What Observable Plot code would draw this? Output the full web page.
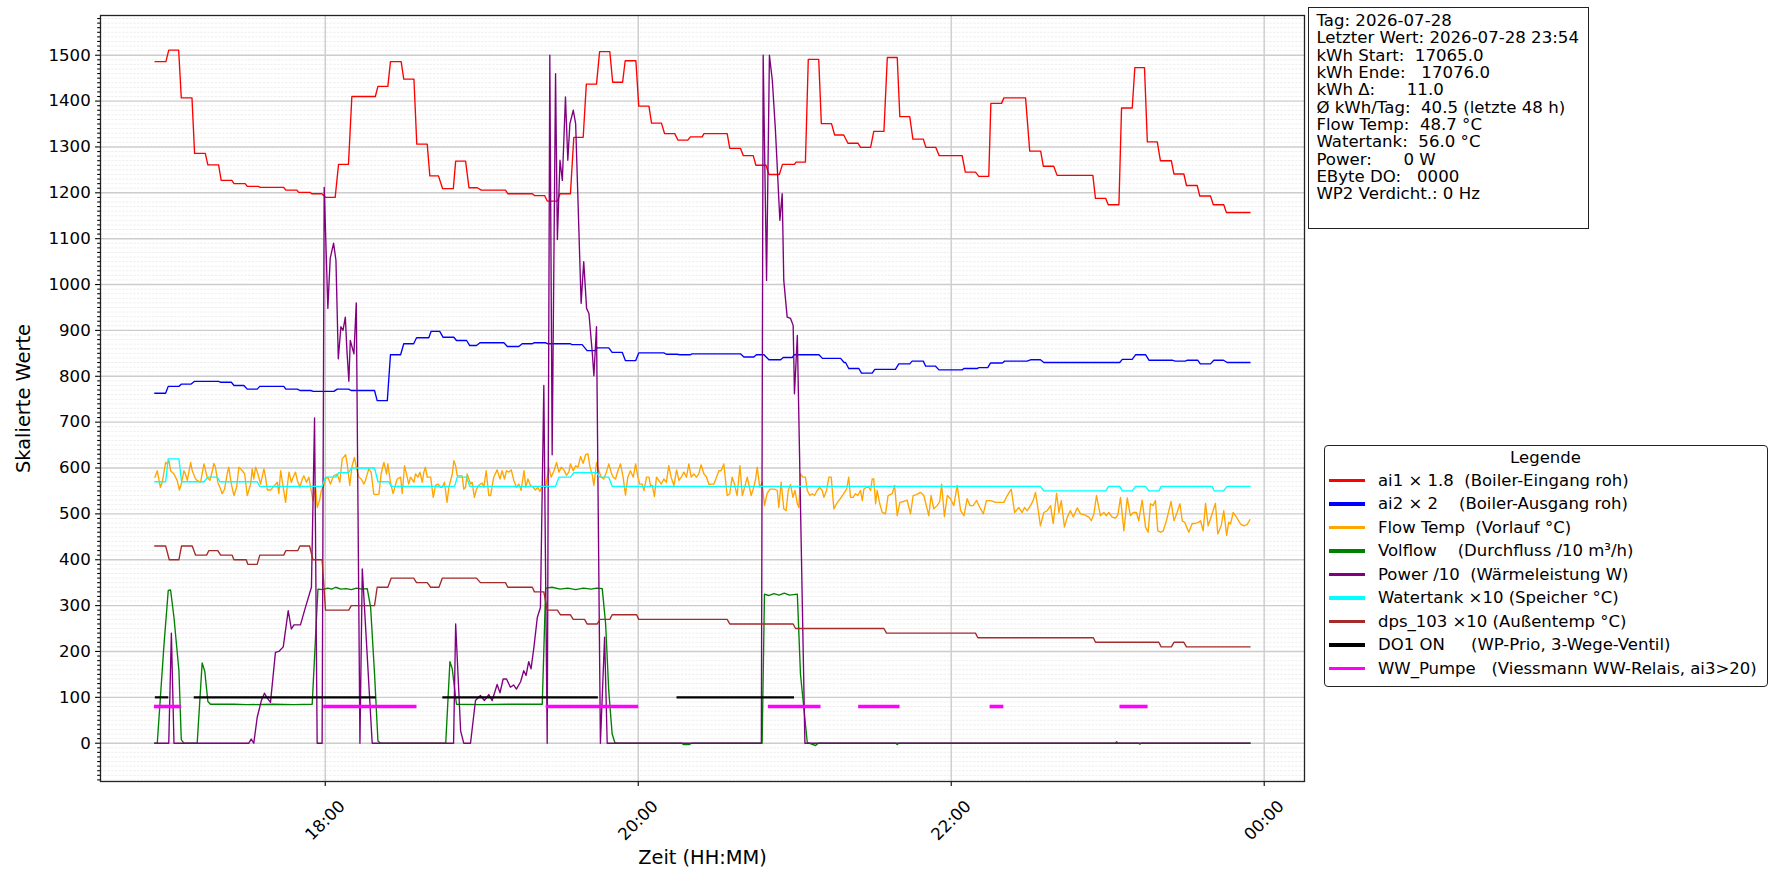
<!DOCTYPE html>
<html><head><meta charset="utf-8">
<script src="https://cdn.jsdelivr.net/npm/d3@7"></script>
<script src="https://cdn.jsdelivr.net/npm/@observablehq/plot@0.6"></script>
<style>
body{margin:0;background:#fff;}
#wrap{position:relative;width:1782px;height:884px;font-family:"DejaVu Sans",sans-serif;color:#000;}
#wrap svg{position:absolute;left:0;top:0;}
#info{position:absolute;left:1307.7px;top:6.7px;width:281.3px;height:222.6px;box-sizing:border-box;border:1.3px solid #222;background:#fff;padding:4.3px 0 0 7.7px;font-size:16.6px;line-height:17.33px;white-space:pre;}
#legend{position:absolute;left:1324px;top:445px;width:443.7px;height:241.7px;box-sizing:border-box;border:1.3px solid #222;border-radius:4px;background:#fff;}
.lt{position:absolute;font-size:16.5px;line-height:16.5px;height:16.5px;white-space:pre;}
.lh{position:absolute;height:3.5px;}
</style></head><body><div id="wrap"></div>
<script>
// time: minutes relative to 18:00
const xTickPos = [0, 120, 240, 360];
const xTickLabels = ["18:00", "20:00", "22:00", "00:00"];
const yMajorTicks = [0,100,200,300,400,500,600,700,800,900,1000,1100,1200,1300,1400,1500];

const ai1 = [[-65.2,1486],[-61.1,1486],[-60,1511],[-56.2,1511],[-55.2,1407],[-51.1,1407],[-50.1,1286],[-46,1286],[-45,1261],[-40.9,1261],[-39.9,1227],[-35.8,1227],[-35,1220],[-30.7,1220],[-29.9,1214],[-25.6,1214],[-25.1,1212],[-16,1212],[-15.1,1206],[-10.9,1206],[-10.2,1201],[-5.8,1201],[-5.2,1198],[-1.3,1198],[0.2,1190],[3.8,1190],[5.1,1262],[8.9,1262],[10.2,1410],[19.2,1410],[20.2,1432],[24,1432],[25,1486],[29.1,1486],[30.1,1448],[34,1448],[35.1,1306],[39.1,1306],[40.1,1237],[43.4,1237],[45,1209],[49.1,1209],[50,1269],[53.8,1269],[55.1,1211],[58.3,1211],[59.8,1206],[69.1,1206],[70,1198],[79.4,1198],[80.2,1194],[84.1,1194],[85.1,1182],[89,1182],[90,1198],[94,1198],[95.3,1321],[98.9,1321],[100.1,1437],[104,1437],[105.2,1508],[109.1,1508],[110.2,1441],[114,1441],[115,1488],[119.1,1488],[120.2,1389],[124.1,1389],[125.1,1352],[128.9,1352],[130.1,1329],[134,1329],[135.2,1315],[139,1315],[140,1322],[144.5,1322],[145.2,1329],[154.1,1329],[155.1,1297],[159.2,1297],[160.3,1281],[164.1,1281],[165.1,1260],[169,1260],[170.1,1240],[174.1,1240],[175.3,1262],[179.9,1262],[180.5,1267],[184.1,1267],[185.2,1491],[189.2,1491],[190.2,1351],[194.1,1351],[195.3,1326],[198.8,1326],[200.4,1308],[204.3,1308],[205.2,1299],[209.1,1299],[210.3,1334],[214.2,1334],[215.5,1495],[219.3,1495],[220.3,1366],[224.1,1366],[225.3,1317],[229.3,1317],[230.3,1299],[234.1,1299],[235.4,1281],[244.2,1281],[245.4,1245],[249.3,1245],[250.6,1236],[254.4,1236],[255.2,1395],[259.3,1395],[260.2,1407],[268.5,1407],[270.1,1291],[274.3,1291],[275.3,1258],[279.3,1258],[280.6,1238],[294.3,1238],[295.3,1188],[299.2,1188],[300.2,1174],[304.3,1174],[305.3,1385],[309.4,1385],[310.4,1473],[314.1,1473],[315.2,1311],[319,1311],[320.2,1270],[324.4,1270],[325.4,1241],[329.2,1241],[330.2,1216],[334.3,1216],[335.3,1193],[339.4,1193],[340.5,1174],[344.5,1174],[345.5,1157],[354.5,1157]];

const ai2 = [[-65.3,763],[-61.2,763],[-60.2,778],[-56.1,778],[-55.1,783],[-51.4,783],[-50.1,789],[-40.8,789],[-40.2,787],[-36,787],[-35,780],[-31.2,780],[-29.9,772],[-26.1,772],[-25.1,778],[-15.9,778],[-15.1,772],[-10.7,772],[-9.7,769],[-5.6,769],[-4.6,767],[3.3,767],[4.6,772],[9,772],[9.9,769],[18.9,769],[19.9,747],[23.8,747],[25,847],[28.9,847],[30.1,871],[33.9,871],[35,884],[39.7,884],[40.6,898],[43.9,898],[45.2,885],[49.3,885],[50.3,878],[54.2,878],[55.4,867],[58,867],[59.3,873],[68.5,873],[69.8,865],[74.2,865],[75.5,871],[79.4,871],[80,873],[84.5,873],[85.2,871],[94,871],[94.6,869],[98.5,869],[100.4,856],[103.6,856],[104.2,862],[108.7,862],[110,852],[113.9,852],[115.1,834],[119,834],[120.2,851],[129.8,851],[130.8,848],[134.9,848],[135.9,847],[140,847],[140.6,849],[159.2,849],[160.5,842],[164.3,842],[165.3,847],[168.2,847],[170.1,836],[174.6,836],[175.6,841],[179.1,841],[179.8,847],[189.3,847],[190.6,839],[197.6,839],[198.9,830],[199.5,830],[200.7,817],[204.6,817],[205.6,807],[209.7,807],[210.7,815],[218.6,815],[219.9,827],[224.1,827],[225,833],[229.3,833],[230.2,822],[234,822],[235.3,814],[244.2,814],[244.9,817],[250,817],[250.6,819],[254,819],[255.1,829],[259.6,829],[260.5,833],[269.1,833],[270.4,836],[274.2,836],[275.5,830],[304.6,830],[305.6,837],[309.4,837],[310.7,847],[314.5,847],[315.8,835],[324.7,835],[325.9,833],[329.8,833],[330.4,835],[334.5,835],[335.5,827],[339.4,827],[340.7,835],[344.4,835],[345.8,830],[354.5,830]];

const flowTemp = [[-65.3,580],[-64.4,594],[-63.8,576],[-63.2,558],[-62.5,569],[-61.2,612],[-60.6,609],[-59.9,616],[-59.3,594],[-58,587],[-56.8,573],[-55.9,552],[-55.2,565],[-54.2,594],[-53.6,587],[-52.9,573],[-51.6,612],[-51,594],[-49.7,576],[-49.1,573],[-47.8,569],[-46.5,609],[-45.3,580],[-44.2,573],[-43.3,594],[-42.7,610],[-42.1,602],[-41.2,569],[-40.4,558],[-39.5,544],[-38.6,554],[-37.6,587],[-37,602],[-36,565],[-35,540],[-34,558],[-33.1,602],[-31.8,594],[-30.9,587],[-29.9,540],[-28.6,565],[-28,598],[-27.4,576],[-26.7,602],[-25.8,587],[-24.8,565],[-23.5,598],[-22.9,580],[-22.2,552],[-21,552],[-19.7,560],[-18.4,569],[-17.8,544],[-17.1,594],[-16.1,558],[-15.2,525],[-14.6,558],[-13.9,591],[-13,569],[-12.3,580],[-11.4,591],[-10.7,573],[-9.7,558],[-8.8,576],[-8.2,583],[-7.2,569],[-6.3,580],[-5.4,551],[-4.7,529],[-3.7,558],[-3.1,514],[-2.2,529],[-1.5,551],[-0.5,562],[0.1,576],[1,580],[2,565],[2.7,576],[3.3,583],[4.6,587],[5.6,569],[6.5,620],[7.8,629],[8.4,609],[9.4,562],[10.3,605],[11.2,623],[12.2,594],[12.9,580],[13.8,576],[14.8,565],[15.4,573],[16.7,598],[17.6,591],[18.6,543],[19.7,542],[20.6,543],[21.4,587],[22.5,612],[23.5,587],[24,609],[25,569],[26,544],[27,565],[27.6,576],[28.9,580],[29.5,544],[30.4,605],[31.4,580],[32,565],[32.7,580],[34,569],[34.6,587],[35.5,580],[36.3,591],[37.2,569],[37.8,591],[38.4,602],[39.1,580],[40.4,580],[41.4,536],[42.3,562],[43.2,565],[44.2,558],[44.8,558],[45.7,569],[46.7,525],[47.4,558],[48.7,587],[49.3,616],[50,605],[50.6,583],[51.6,583],[52.5,583],[53.1,554],[53.8,558],[54.4,587],[55.7,565],[56.3,569],[57.2,536],[58,554],[58.9,562],[59.5,565],[60.2,567],[60.8,558],[61.7,594],[62.7,540],
[63.4,540],[64.6,580],[65.9,596],[67,576],[67.8,594],[68.7,576],[69.5,594],[70.4,591],[71.3,596],[72.3,573],[73.3,558],[74.2,565],[75.1,551],[76.2,594],[76.9,558],[77.7,576],[78.7,562],[79.7,558],[80.6,552],[81.5,558],[82.3,549],[83.2,562],[84.5,558],[85.7,602],[86.6,580],[87.7,594],[88.7,612],[89.6,591],[90.5,602],[91.5,596],[92.5,584],[93.4,591],[94,609],[95.1,594],[96,605],[96.9,602],[97.9,625],[98.9,610],[99.8,629],[100.7,631],[101.5,602],[102.4,584],[103,562],[104,612],[104.9,594],[105.8,580],[106.8,576],[107.8,591],[108.7,609],[109.6,591],[110.4,580],[111.3,576],[112.2,594],[113.2,609],[114.2,580],[115.1,541],[116,580],[117,594],[118.1,580],[119,609],[119.9,580],[120.6,565],[121.5,565],[122.2,551],[123.2,580],[124.1,580],[124.7,562],[125.4,562],[126.2,538],[127,580],[127.9,573],[128.8,565],[129.8,576],[130.8,569],[131.7,605],[132.6,580],[133.7,562],[134.7,596],[135.6,573],[136.5,580],[137.5,591],[138.5,580],[139.4,609],[140.3,580],[141.3,587],[142.3,580],[143.2,587],[144.1,607],[145.2,587],[146.2,580],[147.1,564],[148,565],[149,565],[150,580],[150.9,594],[151.8,594],[152.8,609],[154.1,540],[155.1,544],[156,580],[156.9,565],[157.9,540],[159,605],[159.9,540],[160.8,558],[161.8,580],[162.4,565],[163.3,540],[164.3,558],[165,576],[165.6,602],[166.6,558],[167.5,569],[168.4,518],[169.4,544],[170.5,554],[171.4,554],[172.3,554],[173.3,551],[173.9,514],[174.8,569],[175.8,511],[176.7,507],[177.5,551],[178.4,564],[179.3,536],[180.1,551],[181,522],[181.6,514],[182.2,587],[183.1,580],[184.1,580],[184.8,551],[185.8,540],[186.7,544],[187.6,540],[188.6,551],[189.6,558],[190.5,551],[191.2,536],[192.2,551],[193.1,580],[194,580],[195,511],[196,522],[196.9,529],[197.8,536],[198.8,544],[199.9,554],[200.7,580],[201.4,536],[202.4,536],[203.3,544],[204.2,540],[205.2,551],[205.9,529],[206.5,554],[207.5,558],[208.4,558],[209.1,551],[209.7,576],[210.3,576],[211,522],[211.6,551],[212.6,522],[213.5,504],[214.8,500],[215.8,540],
[217.4,544],[218.3,562],[219.3,496],[220.3,525],[221.8,527],[223.1,530],[224.4,500],[225.4,540],[226.7,542],[228.2,547],[229.5,540],[231.4,496],[232.3,540],[233.3,511],[234.6,518],[235.6,527],[236.3,565],[237.4,494],[238.5,540],[239.7,533],[241,518],[242.3,562],[243.6,507],[244.9,496],[246.1,533],[247.2,518],[248.4,518],[249.7,529],[251,514],[252.3,500],[253.5,529],[255.1,529],[257,525],[258.3,525],[260.2,525],[261.5,540],[263,554],[264.3,503],[265.9,514],[267.2,503],[268.1,514],[269.1,507],[270.4,518],[271.4,529],[272.3,547],[273.2,514],[274.2,474],[275.5,503],[276.8,507],[278.1,518],[279.1,479],[280.4,545],[281.3,503],[282.2,529],[283.4,471],[284.5,493],[285.7,507],[286.8,493],[288.3,513],[289.6,500],[291.1,498],[292.8,493],[293.7,485],[294.7,500],[295.7,540],[297.2,496],[298.5,503],[299.5,496],[300.4,503],[301.7,493],[303,491],[303.9,498],[304.9,536],[306.2,463],[307.5,535],[308.7,496],[309.8,503],[311,503],[311.9,485],[313.2,530],[314.5,471],[315.5,460],[316.4,522],[317.4,518],[318.3,529],[319.2,463],[320.3,460],[321.3,463],[322.5,485],[324.3,527],[325.4,485],[326.6,503],[327.7,522],[328.6,484],[329.5,482],[331.1,460],[332.4,479],[333.7,479],[334.9,482],[335.6,485],[336.6,463],[337.5,523],[338.5,474],[339.8,496],[341.3,523],[342.2,456],[343.5,474],[344.5,507],[345.6,453],[346.4,482],[347.1,478],[348.1,503],[349.4,493],[350.9,478],[352.2,474],[353.5,477],[354.5,487]];

const volflow = [[-65.3,0],[-64.4,0],[-61.9,209],[-60.2,333],[-59.3,334],[-58,274],[-56.1,158],[-55.2,8],[-54.2,0],[-49.1,0],[-47.2,175],[-46.2,157],[-45,91],[-44,85],[-35,85],[-30,84],[-20,85],[-12,84],[-5,85],[-2.8,336],[-1,335],[1,338],[2.5,336],[4,340],[6,336],[8,337],[10,335],[12,338],[14,336],[16.1,337],[17.4,296],[18.9,151],[20.2,5],[21.2,0],[46.2,0],[47.8,178],[48.7,162],[50.3,85],[60,84],[70,85],[83.2,85],[84.5,338],[87,340],[90,336],[93,338],[96,335],[99,338],[102,336],[104,338],[106.2,337],[107.5,260],[108.7,114],[110,20],[111,2],[112,0],[136.5,0],[137.5,-3],[139.5,-3],[140.5,0],[167.5,0],[168.4,325],[170,322],[172,326],[174,323],[176,327],[178,323],[181,325],[182.2,151],[184.8,2],[186.5,-2],[188,-5],[189,0],[218.8,0],[219.3,-3],[219.8,0],[302.9,0],[303.4,3],[303.9,0],[311.8,0],[312.3,-2],[312.8,0],[354.5,0]];

const power = [[-65.3,0],[-60,0],[-59,240],[-58,0],[-29.3,0],[-28.4,9],[-27.4,0],[-26.1,56],[-24.5,93],[-23.3,109],[-22.3,99],[-21,89],[-19.1,198],[-17.8,200],[-16.1,210],[-14.2,289],[-13,249],[-12,258],[-9.5,258],[-7.6,296],[-5.3,340],[-4.1,709],[-3.1,0],[-1.2,0],[-0.4,1212],[1,948],[1.9,1057],[3.2,1090],[4.1,1053],[5,838],[6,908],[6.8,900],[7.7,929],[8.3,857],[9.05,789],[9.6,878],[11,849],[11.9,960],[13.3,0],[14.2,380],[18,0],[49.2,0],[50,260],[51.9,27],[53.1,0],[55.7,0],[57.6,93],[59.5,104],[61,93],[62.7,106],[64,93],[65.9,128],[67,110],[68.2,140],[69.5,140],[71,122],[72.2,127],[73.3,118],[74.9,134],[76.1,158],[77,148],[78,178],[78.9,162],[80,209],[81.3,274],[82.5,296],[83.8,780],[85.1,0],[86.1,1500],[87,629],[88.3,1460],[89,1098],[90,1271],[90.9,1227],[92.1,1409],[93,1271],[93.8,1351],[95.1,1380],[96,1351],[98.1,959],[99.1,1050],[100.2,948],[101.1,937],[102.4,850],[103,801],[104,908],[105.5,0],[107.1,231],[108.1,0],[167.2,0],[167.9,1500],[169.2,1009],[170.3,1500],[171.4,1446],[172.6,1337],[174.3,1140],[175.2,1198],[175.8,1009],[177.1,929],[178.4,926],[179.4,911],[179.9,762],[181,889],[183.9,0],[354.5,0]];

const watertank = [[-65.3,570],[-61.2,570],[-60.2,620],[-56.1,620],[-55.1,570],[-46.5,570],[-45,580],[-41.4,580],[-40.4,570],[-26.1,570],[-25.1,560],[-1.2,560],[0.1,580],[4,580],[5.2,590],[9,590],[10,600],[18.9,600],[20.2,570],[24.4,570],[25.3,560],[49.6,560],[50.6,580],[54.2,580],[55.4,560],[88.3,560],[89.6,580],[94,580],[95.3,590],[104,590],[105.3,580],[108.7,580],[110,560],[274.2,560],[275.5,550],[299.2,550],[300.4,560],[304.6,560],[305.6,550],[309.4,550],[310.7,560],[314.5,560],[315.8,550],[319.6,550],[320.5,560],[340,560],[340.9,550],[344.4,550],[345.8,560],[354.5,560]];

const dps103 = [[-65.3,430],[-61.2,430],[-59.8,400],[-56.1,400],[-55.1,430],[-51,430],[-49.7,410],[-45.5,410],[-44.6,420],[-41.2,420],[-40.1,410],[-35.7,410],[-35,400],[-30.3,400],[-29.7,390],[-26.1,390],[-25.1,410],[-15.9,410],[-15.1,420],[-10.5,420],[-9.7,430],[-6,430],[-4.7,400],[-1.2,400],[0.1,290],[9,290],[10,300],[18.9,300],[19.9,340],[24,340],[25.3,360],[33.9,360],[35,350],[39.1,350],[40.4,340],[43.6,340],[44.9,360],[58,360],[59.5,350],[69.1,350],[70,340],[79.4,340],[80.2,330],[83.8,330],[85.1,290],[89,290],[90.2,280],[94,280],[95.1,270],[99.4,270],[100.4,260],[104.3,260],[105.3,270],[109.1,270],[110,280],[119.4,280],[120.2,270],[154.1,270],[155.1,260],[179.4,260],[180.3,250],[214.2,250],[215.2,240],[249.3,240],[250.2,230],[294.5,230],[295.3,220],[319.6,220],[320.5,210],[324.4,210],[325.4,220],[329.2,220],[330.2,210],[354.5,210]];

const do1Level = 100;
const do1Segments = [[-64.9,-60.6],[-50,18.9],[45.3,104.1],[135.1,179.3]];
const wwLevel = 80;
const wwSegments = [[-65,-55.9],[-0.1,34.3],[85.2,119.3],[170.4,189.2],[205,219.5],[255.4,259.3],[305.2,314.6]];

const legendLabels = [
  "ai1 × 1.8  (Boiler-Eingang roh)",
  "ai2 × 2    (Boiler-Ausgang roh)",
  "Flow Temp  (Vorlauf °C)",
  "Volflow    (Durchfluss /10 m³/h)",
  "Power /10  (Wärmeleistung W)",
  "Watertank ×10 (Speicher °C)",
  "dps_103 ×10 (Außentemp °C)",
  "DO1 ON     (WP-Prio, 3-Wege-Ventil)",
  "WW_Pumpe   (Viessmann WW-Relais, ai3>20)"
];
const seriesColors = ["#ff0000","#0000ff","#ffa500","#008000","#800080","#00ffff","#a52a2a","#000000","#ff00ff"];

const infoLines = [
  "Tag: 2026-07-28",
  "Letzter Wert: 2026-07-28 23:54",
  "kWh Start:  17065.0",
  "kWh Ende:   17076.0",
  "kWh Δ:      11.0",
  "Ø kWh/Tag:  40.5 (letzte 48 h)",
  "Flow Temp:  48.7 °C",
  "Watertank:  56.0 °C",
  "Power:      0 W",
  "EByte DO:   0000",
  "WP2 Verdicht.: 0 Hz"
];

// minor y ticks every 10 (tick positions)
const yMinorTicks = d3.range(-80, 1590, 10).filter(v => v % 100 !== 0);

const segRows = (segs, level) => segs.flatMap((s, i) => [{t: s[0], v: level, k: i}, {t: s[1], v: level, k: i}]);

const lineOpts = (color, w) => ({x: d => d[0], y: d => d[1], stroke: color, strokeWidth: w, strokeLinecap: "square", strokeLinejoin: "round"});

const chart = Plot.plot({
  width: 1782, height: 884,
  marginLeft: 100, marginRight: 478, marginTop: 15, marginBottom: 103,
  style: {fontFamily: "DejaVu Sans, sans-serif", fontSize: "16.6px", color: "#000", background: "transparent", overflow: "visible"},
  x: {type: "linear", domain: [-86.17, 375.45]},
  y: {type: "linear", domain: [-83.5, 1586.6]},
  marks: [
    Plot.ruleY(yMinorTicks, {y: d => d, stroke: "#e3e3e3", strokeWidth: 0.6, strokeDasharray: "2.4,1.3"}),
    Plot.ruleY(yMajorTicks, {y: d => d, stroke: "#cccccc", strokeWidth: 1.4}),
    Plot.ruleX(xTickPos, {x: d => d, stroke: "#cccccc", strokeWidth: 1.4}),
    Plot.line(ai1, lineOpts(seriesColors[0], 1.35)),
    Plot.line(ai2, lineOpts(seriesColors[1], 1.35)),
    Plot.line(flowTemp, lineOpts(seriesColors[2], 1.35)),
    Plot.line(volflow, lineOpts(seriesColors[3], 1.35)),
    Plot.line(power, lineOpts(seriesColors[4], 1.35)),
    Plot.line(watertank, lineOpts(seriesColors[5], 1.35)),
    Plot.line(dps103, lineOpts(seriesColors[6], 1.35)),
    Plot.line(segRows(do1Segments, do1Level), {x: "t", y: "v", z: "k", stroke: seriesColors[7], strokeWidth: 2.2, strokeLinecap: "square"}),
    Plot.line(segRows(wwSegments, wwLevel), {x: "t", y: "v", z: "k", stroke: seriesColors[8], strokeWidth: 3.6, strokeLinecap: "square"}),
    Plot.axisY({ticks: yMinorTicks, tickSize: 2.8, tickFormat: () => "", label: null, strokeWidth: 1.1}),
    Plot.axisY({ticks: yMajorTicks, tickSize: 4.9, tickPadding: 4.9, tickFormat: d => String(d), label: null, strokeWidth: 1.1, fontSize: 16.6}),
    Plot.axisX({ticks: xTickPos, tickSize: 4.9, tickFormat: () => "", label: null, strokeWidth: 1.1}),
    Plot.text(xTickPos, {x: d => d, text: (d, i) => xTickLabels[i], frameAnchor: "bottom", dy: 39, rotate: -45, textAnchor: "middle", lineAnchor: "middle", fontSize: 16.6, fill: "#000"}),
    Plot.text(["Skalierte Werte"], {text: d => d, frameAnchor: "left", dx: -77, rotate: -90, textAnchor: "middle", lineAnchor: "middle", fontSize: 19.4, fill: "#000"}),
    Plot.text(["Zeit (HH:MM)"], {text: d => d, frameAnchor: "bottom", dy: 76, textAnchor: "middle", lineAnchor: "middle", fontSize: 19.4, fill: "#000"}),
    Plot.frame({stroke: "#222", strokeWidth: 1.3})
  ]
});

const wrap = document.getElementById("wrap");
wrap.appendChild(chart);

// info box
const info = document.createElement("div");
info.id = "info";
info.textContent = infoLines.join("\n");
wrap.appendChild(info);

// legend
const legend = document.createElement("div");
legend.id = "legend";
wrap.appendChild(legend);
const lx0 = 1324, ly0 = 445;
const title = document.createElement("div");
title.className = "lt";
title.textContent = "Legende";
title.style.left = "0px"; title.style.width = "441px"; title.style.textAlign = "center";
title.style.top = (458.3 - ly0 - 1.3 - 8.0) + "px";
legend.appendChild(title);
legendLabels.forEach((lab, i) => {
  const cy = 481 + i * 23.5 - ly0 - 1.3;
  const h = document.createElement("div");
  h.className = "lh";
  h.style.left = (1329.3 - lx0 - 1.3) + "px";
  h.style.width = "36.4px";
  h.style.top = (cy - 1.75) + "px";
  h.style.background = seriesColors[i];
  legend.appendChild(h);
  const t = document.createElement("div");
  t.className = "lt";
  t.textContent = lab;
  t.style.left = (1378.3 - lx0 - 1.3) + "px";
  t.style.top = (cy - 8.0) + "px";
  legend.appendChild(t);
});
</script></body></html>
